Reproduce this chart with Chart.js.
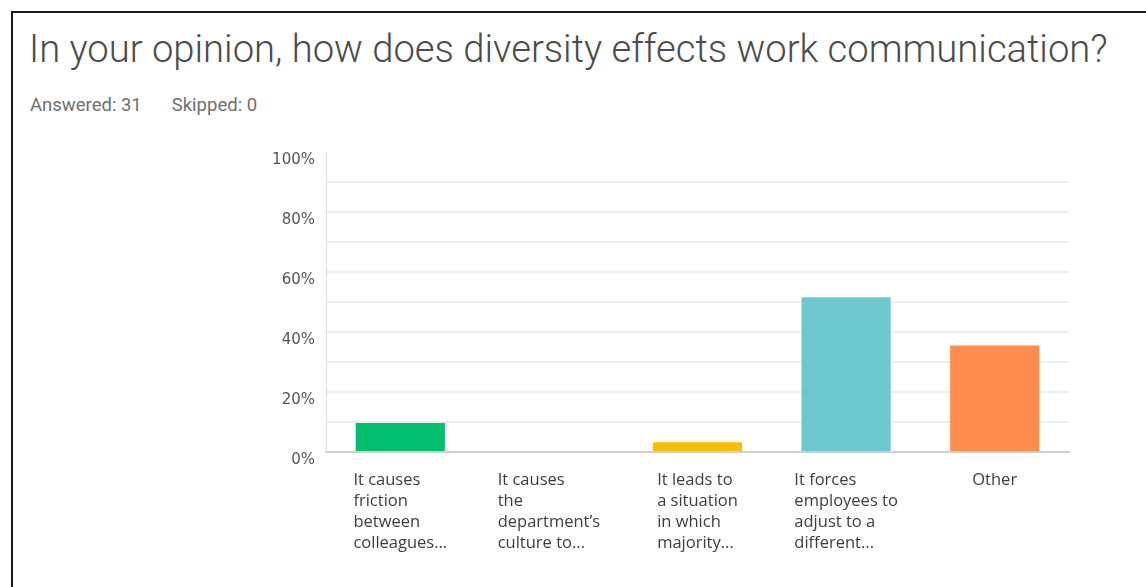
<!DOCTYPE html>
<html>
<head>
<meta charset="utf-8">
<script src="https://cdn.jsdelivr.net/npm/chart.js@4/dist/chart.umd.min.js"></script>
<style>
  html, body { margin: 0; padding: 0; background: #fff; }
  body { width: 1146px; height: 587px; position: relative; overflow: hidden; }
  .frame {
    position: absolute; left: 11px; top: 11px; width: 1200px; height: 700px;
    border-left: 2px solid #1a1a1a; border-top: 2px solid #1a1a1a;
  }
  h1 {
    position: absolute; left: 29px; top: 24px; margin: 0;
    font-family: Roboto, sans-serif; font-weight: 300; font-size: 38.2px;
    color: #4b4b4b; white-space: nowrap; line-height: 50px;
  }
  .meta {
    position: absolute; left: 30px; top: 93px; margin: 0;
    font-family: Roboto, sans-serif; font-size: 18.5px; color: #6f6f6f;
    line-height: 24px;
  }
  .meta span + span { margin-left: 30px; }
  #chart { position: absolute; left: 0; top: 0; }
</style>
</head>
<body>
<div class="frame"></div>
<h1>In your opinion, how does diversity effects work communication?</h1>
<p class="meta"><span>Answered: 31</span><span>Skipped: 0</span></p>
<canvas id="chart" width="1146" height="587"></canvas>
<script>
const answers = [
    ['It causes', 'friction', 'between', 'colleagues...'],
    ['It causes', 'the', 'department\u2019s', 'culture to...'],
    ['It leads to', 'a situation', 'in which', 'majority...'],
    ['It forces', 'employees to', 'adjust to a', 'different...'],
    ['Other']
];
const percents = [9.68, 0, 3.23, 51.61, 35.48];
const barColors = ['#00bf6f', '#507cb6', '#f9be00', '#6bc8cd', '#ff8b4f'];

const labelFont = '16.5px "Open Sans", sans-serif';

// x labels are left aligned inside a block that is centred on the bar
const blockLabels = {
    id: 'blockLabels',
    afterDraw(chart) {
        const ctx = chart.ctx;
        const x = chart.scales.x;
        ctx.save();
        ctx.font = labelFont;
        ctx.fillStyle = '#3d3d3d';
        ctx.textBaseline = 'middle';
        ctx.textAlign = 'left';
        answers.forEach(function (lines, i) {
            const w = Math.max.apply(null, lines.map(l => ctx.measureText(l).width));
            const left = x.getPixelForValue(i) - w / 2;
            lines.forEach(function (line, j) {
                ctx.fillText(line, left, 480 + j * 21);
            });
        });
        ctx.restore();
    }
};

new Chart(document.getElementById('chart'), {
    type: 'bar',
    data: {
        labels: answers,
        datasets: [{
            data: percents,
            backgroundColor: barColors,
            categoryPercentage: 1,
            barPercentage: 0.6
        }]
    },
    options: {
        responsive: false,
        animation: false,
        layout: { padding: { left: 266, right: 77, top: 152, bottom: 0 } },
        plugins: { legend: { display: false }, tooltip: { enabled: false } },
        scales: {
            x: {
                grid: { display: false },
                border: { color: '#cfcfcf', width: 2 },
                ticks: { display: false },
                afterFit(s) { s.height = 135; }
            },
            y: {
                min: 0,
                max: 100,
                afterFit(s) { s.width = 60; },
                border: { color: '#dcdcdc', width: 1 },
                grid: {
                    drawTicks: false,
                    color: c => (c.tick.value === 100 || c.tick.value === 0) ? 'rgba(0,0,0,0)' : '#eeeeee',
                    lineWidth: 2
                },
                ticks: {
                    stepSize: 10,
                    padding: 11,
                    labelOffset: 8,
                    color: '#555',
                    font: { family: 'DejaVu Sans', size: 15 },
                    callback: v => v % 20 === 0 ? v + '%' : ''
                }
            }
        }
    },
    plugins: [blockLabels]
});
</script>
</body>
</html>
